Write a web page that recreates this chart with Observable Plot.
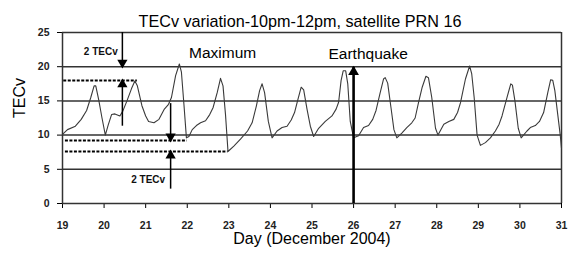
<!DOCTYPE html>
<html>
<head>
<meta charset="utf-8">
<script src="https://cdn.jsdelivr.net/npm/d3@7"></script>
<script src="https://cdn.jsdelivr.net/npm/@observablehq/plot@0.6"></script>
<style>
  html, body { margin: 0; padding: 0; background: #fff; }
  #chart svg { display: block; }
  #chart g[aria-label$="tick label"] text { font-weight: bold; fill: #222; }
</style>
</head>
<body>
<div id="chart"></div>
<script>
// ---- data ----
const days = [
  19.00,19.12,19.31,19.45,19.58,19.68,19.76,19.80,19.87,19.95,
  20.03,20.10,20.18,20.26,20.38,20.45,20.55,20.66,20.74,20.80,20.91,
  21.00,21.07,21.20,21.32,21.45,21.55,21.62,21.72,21.81,21.86,21.92,21.98,
  22.04,22.12,22.22,22.32,22.44,22.54,22.62,22.72,22.80,22.86,22.92,22.98,
  23.12,23.28,23.45,23.56,23.66,23.74,23.80,23.86,23.95,
  24.04,24.16,24.28,24.40,24.50,24.58,24.66,24.74,24.80,24.88,24.96,
  25.04,25.16,25.32,25.48,25.58,25.64,25.70,25.75,25.81,25.86,25.92,
  26.00,26.12,26.24,26.36,26.46,26.54,26.64,26.72,26.76,26.82,26.90,26.97,
  27.04,27.16,27.28,27.40,27.48,27.56,27.65,27.74,27.80,27.88,27.97,
  28.03,28.17,28.29,28.41,28.50,28.57,28.69,28.79,28.84,28.90,28.97,
  29.05,29.17,29.29,29.41,29.50,29.57,29.69,29.78,29.82,29.88,29.96,
  30.03,30.17,30.25,30.37,30.47,30.57,30.67,30.74,30.79,30.84,30.91,30.97,31.00
];
const tec = [
  10.1,10.8,11.3,12.3,13.6,15.5,17.2,17.2,15.2,12.5,
  10.0,11.5,13.0,13.1,12.8,13.5,15.0,16.8,17.9,17.2,14.3,
  12.8,12.0,11.8,12.3,13.8,14.5,15.5,18.7,20.4,19.2,14.5,9.6,
  9.8,10.8,11.4,11.8,12.1,13.0,14.0,16.2,18.3,17.2,13.0,7.6,
  8.4,9.4,10.6,11.8,14.2,16.5,17.5,16.2,12.0,
  9.6,10.6,11.1,11.3,12.2,13.3,15.2,17.0,16.6,13.8,11.3,
  9.8,11.0,12.0,12.8,13.8,14.8,18.0,19.4,19.4,17.5,12.0,
  9.6,9.9,11.1,11.4,12.3,13.6,16.2,18.2,18.4,17.6,14.0,10.8,
  9.6,10.3,11.1,11.8,12.5,14.7,17.0,18.6,18.4,15.5,11.0,
  10.0,11.6,12.0,12.3,13.3,14.7,18.2,20.1,19.0,15.5,10.0,
  8.5,8.9,9.6,10.6,11.6,12.8,15.5,17.5,17.3,15.0,11.0,
  9.6,10.6,11.1,11.4,12.0,13.3,16.2,18.1,18.0,16.5,13.0,10.0,8.1
];
const xTicks = [19,20,21,22,23,24,25,26,27,28,29,30,31];
const yTicks = [0,5,10,15,20,25];

// dashed reference levels
const dashY  = [18, 9.2, 7.6];
const dashX1 = [19.03, 19.07, 19.07];
const dashX2 = [20.8, 22.0, 22.98];

// "2 TECv" arrows
const arrowX    = [20.44, 20.44, 21.6, 21.6];
const arrowFrom = [25, 11.3, 14.6, 2.1];
const arrowTo   = [20, 18, 9.2, 7.6];

// earthquake marker
const quakeDay = [26];
const quakeTop = [19.9];

// annotation texts
const smallText = ["2 TECv", "2 TECv"];
const smallX = [19.92, 21.06];
const smallY = [22.2, 3.5];
const bigText = ["Maximum", "Earthquake"];
const bigX = [22.85, 26.35];
const bigY = [22, 21.9];

const title = "TECv variation-10pm-12pm, satellite PRN 16";
const xLabel = "Day (December 2004)";
const yLabel = "TECv";

// ---- build tables ----
const series = days.map((d, i) => ({day: d, tec: tec[i]}));
const dashes = dashY.map((y, i) => ({y, x1: dashX1[i], x2: dashX2[i]}));
const arrows = arrowX.map((x, i) => ({x, from: arrowFrom[i], to: arrowTo[i], up: arrowTo[i] > arrowFrom[i]}));
const quake = quakeDay.map((x, i) => ({x, top: quakeTop[i]}));
const small = smallText.map((t, i) => ({t, x: smallX[i], y: smallY[i]}));
const big = bigText.map((t, i) => ({t, x: bigX[i], y: bigY[i]}));

const font = "'Liberation Sans', Arial, sans-serif";

const chart = Plot.plot({
  width: 575,
  height: 261,
  marginLeft: 62,
  marginRight: 14,
  marginTop: 32,
  marginBottom: 58,
  style: {fontFamily: font, fontSize: "10.5px", color: "#000", background: "#fff"},
  x: {domain: [19, 31], ticks: xTicks, tickSize: 5, tickPadding: 13, label: null, tickFormat: d3.format("d")},
  y: {domain: [0, 25], ticks: yTicks, tickSize: 5, tickPadding: 8, label: null},
  marks: [
    Plot.ruleY(yTicks, {stroke: "#333", strokeWidth: 1.5}),
    Plot.ruleX([19, 31], {stroke: "#333", strokeWidth: 1.5}),
    Plot.line(series, {x: "day", y: "tec", stroke: "#3a3a3a", strokeWidth: 1.1}),
    Plot.ruleY(dashes, {y: "y", x1: "x1", x2: "x2", stroke: "#000", strokeWidth: 2, strokeDasharray: "3,1.5"}),
    Plot.ruleX(arrows, {x: "x", y1: "from", y2: "to", stroke: "#000", strokeWidth: 1.5}),
    Plot.dot(arrows.filter(a => a.up), {x: "x", y: "to", symbol: "triangle", r: 3.8, fill: "#000", stroke: null, dy: 4}),
    Plot.dot(arrows.filter(a => !a.up), {x: "x", y: "to", symbol: "triangle", r: 3.8, fill: "#000", stroke: null, dy: -4, rotate: 180}),
    Plot.ruleX(quake, {x: "x", y1: 0, y2: "top", stroke: "#000", strokeWidth: 2.6}),
    Plot.dot(quake, {x: "x", y: "top", symbol: "triangle", r: 4, fill: "#000", stroke: null, dy: 4.5}),
    Plot.text(small, {x: "x", y: "y", text: "t", fontSize: 10, fontWeight: "bold", fill: "#111"}),
    Plot.text(big, {x: "x", y: "y", text: "t", fontSize: 15.5, fill: "#000"}),
    Plot.text([title], {frameAnchor: "top", dx: -12, dy: -17, fontSize: 16.2, fill: "#000"}),
    Plot.text([xLabel], {frameAnchor: "bottom", dy: 40, fontSize: 16, fill: "#000"}),
    Plot.text([yLabel], {frameAnchor: "left", dx: -43, rotate: -90, fontSize: 16, fill: "#000"})
  ]
});
document.getElementById("chart").appendChild(chart);
</script>
</body>
</html>
